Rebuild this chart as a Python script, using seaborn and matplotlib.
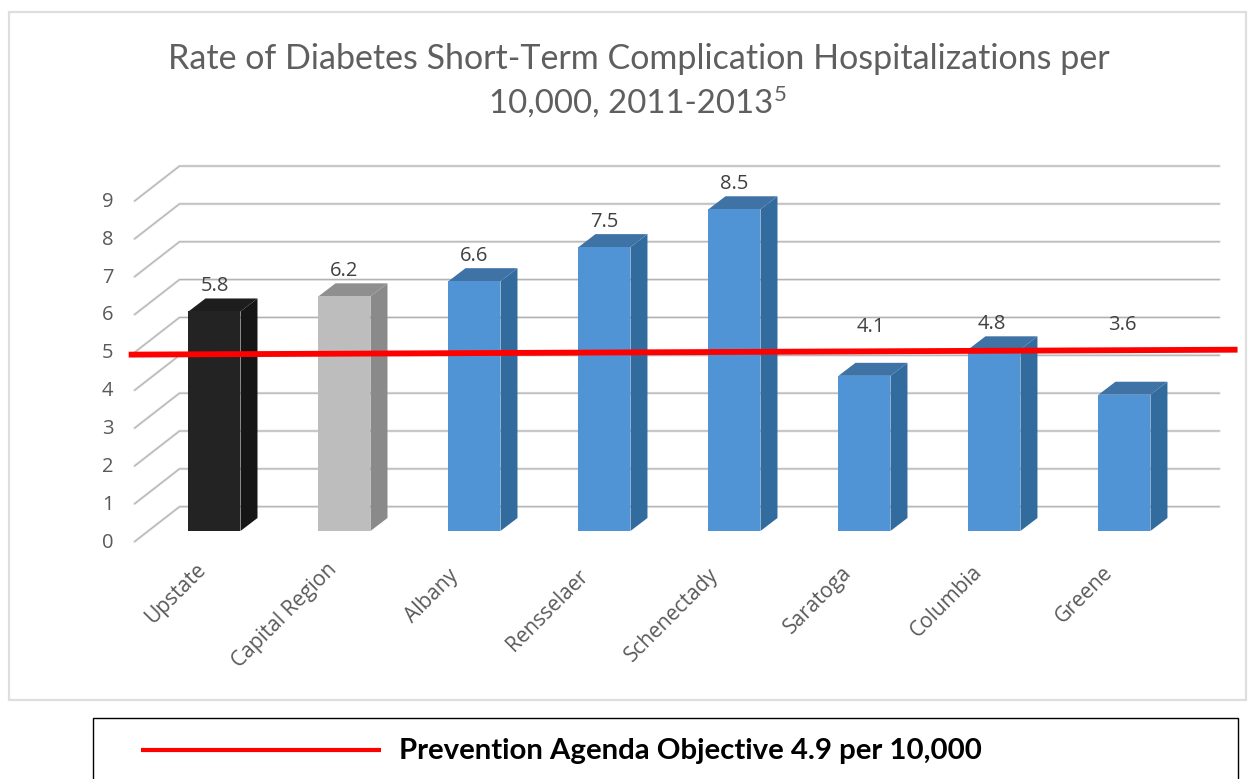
import matplotlib
matplotlib.use("Agg")
import matplotlib.pyplot as plt
from matplotlib.lines import Line2D
from matplotlib.patches import Polygon, Rectangle
from matplotlib.transforms import ScaledTranslation
import seaborn as sns

# Data
regions = ['Upstate', 'Capital Region', 'Albany', 'Rensselaer', 'Schenectady',
           'Saratoga', 'Columbia', 'Greene']
rates = [5.8, 6.2, 6.6, 7.5, 8.5, 4.1, 4.8, 3.6]
y_ticks = [0, 1, 2, 3, 4, 5, 6, 7, 8, 9]
objective_x = [-0.66, 7.87]
objective_y = [4.66, 4.79]

front_colors = ['#232323', '#bdbdbd'] + ['#5094d6'] * 6
side_colors = ['#161616', '#8a8a8a'] + ['#326c9f'] * 6
top_colors = ['#1d1d1d', '#8f8f8f'] + ['#3f73a5'] * 6

W, H = 1257, 779
PX_X = 130.0   # pixels per category
PX_Y = 37.85   # pixels per unit


def fx(px):
    return px / W


def fy(py):
    return 1 - py / H


sns.set_theme(style="white")
plt.rcParams['font.family'] = ['Open Sans', 'DejaVu Sans']

fig = plt.figure(figsize=(W / 100, H / 100), dpi=100)
ax = fig.add_axes([fx(149.5), fy(531), 1090 / W, 381 / H])

# Outer chart frame and the legend box below it
fig.add_artist(Rectangle((fx(9), fy(700)), 1237 / W, 688 / H, transform=fig.transFigure,
                         facecolor='white', edgecolor='#dedede', linewidth=1.6, zorder=-5))
fig.add_artist(Rectangle((fx(93), fy(800)), 1145 / W, 82 / H, transform=fig.transFigure,
                         facecolor='white', edgecolor='black', linewidth=1.0, zorder=-5))

# Bars
bar_width = 0.4
sns.barplot(x=regions, y=rates, hue=regions, palette=front_colors, dodge=False,
            legend=False, width=bar_width, saturation=1, linewidth=0, ax=ax, zorder=4)

# Fake 3D depth
depth_x = 17 / PX_X
depth_y = 13 / PX_Y
for i, patch in enumerate(ax.patches[:len(regions)]):
    x0 = patch.get_x()
    x1 = x0 + patch.get_width()
    top = patch.get_height()
    ax.add_patch(Polygon([(x1, 0), (x1 + depth_x, depth_y), (x1 + depth_x, top + depth_y), (x1, top)],
                         facecolor=side_colors[i], edgecolor='none', zorder=3.5))
    ax.add_patch(Polygon([(x0, top), (x0 + depth_x, top + depth_y), (x1 + depth_x, top + depth_y), (x1, top)],
                         facecolor=top_colors[i], edgecolor='none', zorder=3.5))

# Back wall grid lines with the slanted side wall
wall_front = (135 - 215) / PX_X
wall_back = (180 - 215) / PX_X
wall_right = (1220 - 215) / PX_X
wall_up = 24.3 / PX_Y
wall_down = -10.7 / PX_Y
for k in y_ticks:
    xs = [wall_front, wall_back, wall_right]
    ys = [k + wall_down, k + wall_up, k + wall_up]
    ax.plot(xs, ys, color='#e2e2e2', lw=1.9, clip_on=False, zorder=1, solid_capstyle='round')
    ax.plot(xs, ys, color='#adadad', lw=0.7, clip_on=False, zorder=1.1, solid_capstyle='round')

# Objective line
sns.lineplot(x=objective_x, y=objective_y, color='#ff0000', linewidth=4.2, sort=False,
             clip_on=False, zorder=6, solid_capstyle='butt', ax=ax)

# Value labels
label_nudge = [(0, 0), (0, 0), (0, 0), (0, 0), (0, 0), (6, 24), (-3, 0), (-2, 45)]
for i, val in enumerate(rates):
    dx, dy = label_nudge[i]
    ax.annotate(f'{val:.1f}', (i, val), xytext=(dx * 0.72, (25 + dy) * 0.72),
                textcoords='offset points', ha='center', va='center',
                fontsize=14.5, color='#404040', zorder=7, annotation_clip=False)

ax.set_xlim(-0.5, 7.885)
ax.set_ylim(0, 381 / PX_Y)
sns.despine(ax=ax, left=True, bottom=True, top=True, right=True)
ax.patch.set_alpha(0)
ax.grid(False)
ax.set_xlabel('')
ax.set_ylabel('')

ax.set_yticks(y_ticks)
ax.tick_params(axis='y', length=0, pad=26, labelsize=14.5, labelcolor='#595959')
for label in ax.get_yticklabels():
    label.set_transform(label.get_transform() + ScaledTranslation(0, -9 / 100, fig.dpi_scale_trans))

ax.set_xticks(range(len(regions)))
ax.set_xticklabels(regions, rotation=45, ha='right', rotation_mode='anchor')
ax.tick_params(axis='x', length=0, pad=20, labelsize=15, labelcolor='#595959')
# the labels do not sit evenly under the bars in the original
tick_nudge = [(-19, 0), (-18, 0), (-27, -7), (-27, -7), (-26, -5), (-23, -3), (-23, -3), (-22, -3)]
for label, (dx, dy) in zip(ax.get_xticklabels(), tick_nudge):
    label.set_transform(label.get_transform() + ScaledTranslation(dx / 100, dy / 100, fig.dpi_scale_trans))

# Title, drawn in two lines so the superscript can sit after the second one
fig.text(fx(638.5), fy(59), 'Rate of Diabetes Short-Term Complication Hospitalizations per',
         ha='center', va='center', fontsize=24.45, color='#5f5f5f', family='Lato')
fig.text(fx(773), fy(104), '10,000, 2011-2013', ha='right', va='center',
         fontsize=23.8, color='#5f5f5f', family='Lato')
fig.text(fx(774), fy(95), '5', ha='left', va='center', fontsize=16, color='#5f5f5f', family='Lato')

# Legend contents
fig.add_artist(Line2D([fx(141), fx(381)], [fy(750), fy(750)], transform=fig.transFigure,
                      color='#ff0000', linewidth=3, solid_capstyle='butt'))
fig.text(fx(399), fy(751), 'Prevention Agenda Objective 4.9 per 10,000', ha='left', va='center',
         fontsize=21.2, weight='bold', color='black', family='Lato')

fig.savefig('out.png', dpi=100)
plt.close(fig)
